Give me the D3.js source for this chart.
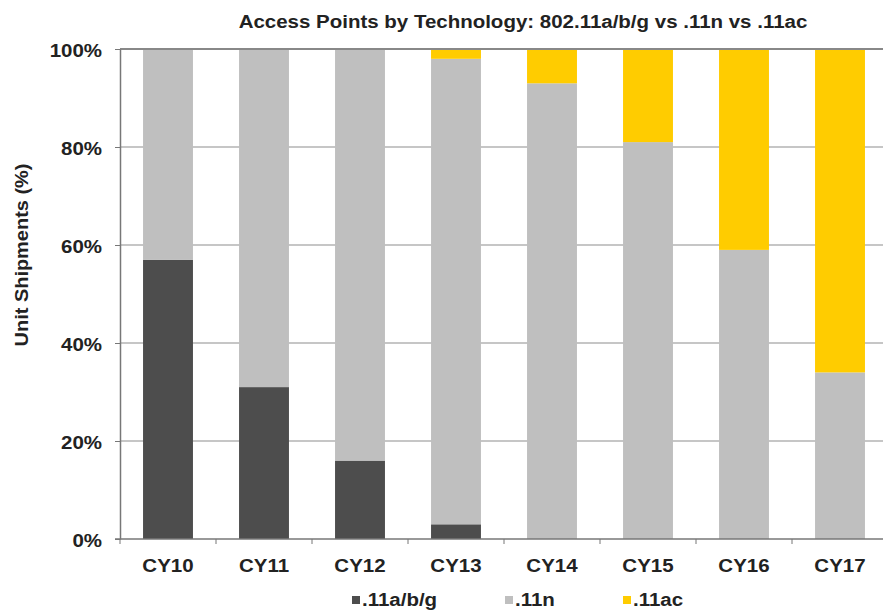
<!DOCTYPE html>
<html>
<head>
<meta charset="utf-8">
<script src="https://cdn.jsdelivr.net/npm/d3@7"></script>
<style>
  body { margin: 0; background: #fff; }
  text { font-family: "Liberation Sans", Arial, sans-serif; font-weight: bold; fill: #222; }
</style>
</head>
<body>
<div class="chart"></div>
<script>
const years = ["CY10", "CY11", "CY12", "CY13", "CY14", "CY15", "CY16", "CY17"];
const abg = [57, 31, 16, 3, 0, 0, 0, 0];
const n11 = [43, 69, 84, 95, 93, 81, 59, 34];
const ac11 = [0, 0, 0, 2, 7, 19, 41, 66];
const yTicks = [0, 20, 40, 60, 80, 100];
const seriesNames = [".11a/b/g", ".11n", ".11ac"];
const colors = ["#4d4d4d", "#bfbfbf", "#ffcc00"];

const width = 883;
const height = 612;
const fontSize = "17.5px";

const svg = d3.select(".chart")
    .append("svg")
    .attr("width", width)
    .attr("height", height);

// the reference text is a bit wider than the font, so stretch it
function stretch(sel, k){
    sel.each(function(){
        let len = this.getComputedTextLength();
        d3.select(this)
            .attr("textLength", len * k)
            .attr("lengthAdjust", "spacingAndGlyphs");
    });
}

const x = d3.scaleBand().domain(years).range([120, 888]).paddingInner(0.48).paddingOuter(0.24);
const y = d3.scaleLinear().domain([0, 100]).range([539, 49]);

// gridlines
svg.selectAll(".grid")
    .data(yTicks.filter(t => t > 0 && t < 100))
    .enter()
    .append("line")
    .attr("x1", 120)
    .attr("x2", 888)
    .attr("y1", d => y(d))
    .attr("y2", d => y(d))
    .attr("stroke", "#b3b3b3")
    .attr("stroke-width", 1.5);

// stacked data
let rows = years.map((yr, i) => ({year: yr, abg: abg[i], n: n11[i], ac: ac11[i]}));
let stack = d3.stack().keys(["abg", "n", "ac"])(rows);

svg.selectAll(".layer")
    .data(stack)
    .enter()
    .append("g")
    .attr("fill", (d, i) => colors[i])
    .selectAll("rect")
    .data(d => d)
    .enter()
    .append("rect")
    .attr("x", d => x(d.data.year))
    .attr("width", x.bandwidth())
    .attr("y", d => y(d[1]))
    .attr("height", d => y(d[0]) - y(d[1]));

// top border line
svg.append("line")
    .attr("x1", 120).attr("x2", 888)
    .attr("y1", y(100)).attr("y2", y(100))
    .attr("stroke", "#888").attr("stroke-width", 2);

// y axis
const yAxis = svg.append("g")
    .attr("transform", "translate(120,0)")
    .call(d3.axisLeft(y).tickValues(yTicks).tickFormat(d => d + "%").tickSize(5).tickSizeOuter(0));
yAxis.select(".domain").attr("stroke", "#777").attr("stroke-width", 1.5);
yAxis.selectAll(".tick line").attr("stroke", "#777");
yAxis.selectAll(".tick text")
    .attr("x", -18)
    .attr("dy", "0.4em")
    .attr("font-size", fontSize)
    .attr("font-family", "Liberation Sans, Arial, sans-serif")
    .attr("font-weight", "bold")
    .attr("fill", "#222")
    .call(stretch, 1.17);

// x axis
const xTickPos = years.map((d, i) => 120 + i * 96);
svg.append("line")
    .attr("x1", 115).attr("x2", 888)
    .attr("y1", y(0)).attr("y2", y(0))
    .attr("stroke", "#777").attr("stroke-width", 1.5);
svg.selectAll(".xtick")
    .data(xTickPos)
    .enter()
    .append("line")
    .attr("x1", d => d).attr("x2", d => d)
    .attr("y1", y(0)).attr("y2", y(0) + 5)
    .attr("stroke", "#777");
svg.selectAll(".xlabel")
    .data(years)
    .enter()
    .append("text")
    .attr("x", d => x(d) + x.bandwidth() / 2)
    .attr("y", 572)
    .attr("text-anchor", "middle")
    .attr("font-size", fontSize)
    .text(d => d)
    .call(stretch, 1.17);

// title
svg.append("text")
    .attr("x", 523)
    .attr("y", 28)
    .attr("text-anchor", "middle")
    .attr("font-size", fontSize)
    .text("Access Points by Technology: 802.11a/b/g vs .11n vs .11ac")
    .call(stretch, 1.17);

// y label
svg.append("text")
    .attr("transform", "translate(28,255) rotate(-90)")
    .attr("text-anchor", "middle")
    .attr("font-size", fontSize)
    .text("Unit Shipments (%)")
    .call(stretch, 1.14);

// legend
const legendX = [352, 505, 623];
const legend = svg.selectAll(".legend")
    .data(seriesNames)
    .enter()
    .append("g")
    .attr("transform", (d, i) => "translate(" + legendX[i] + ",600)");
legend.append("rect")
    .attr("width", 8).attr("height", 8)
    .attr("y", -4)
    .attr("fill", (d, i) => colors[i]);
legend.append("text")
    .attr("x", 10)
    .attr("y", 6)
    .attr("font-size", fontSize)
    .text(d => d)
    .call(stretch, 1.17);
</script>
</body>
</html>
